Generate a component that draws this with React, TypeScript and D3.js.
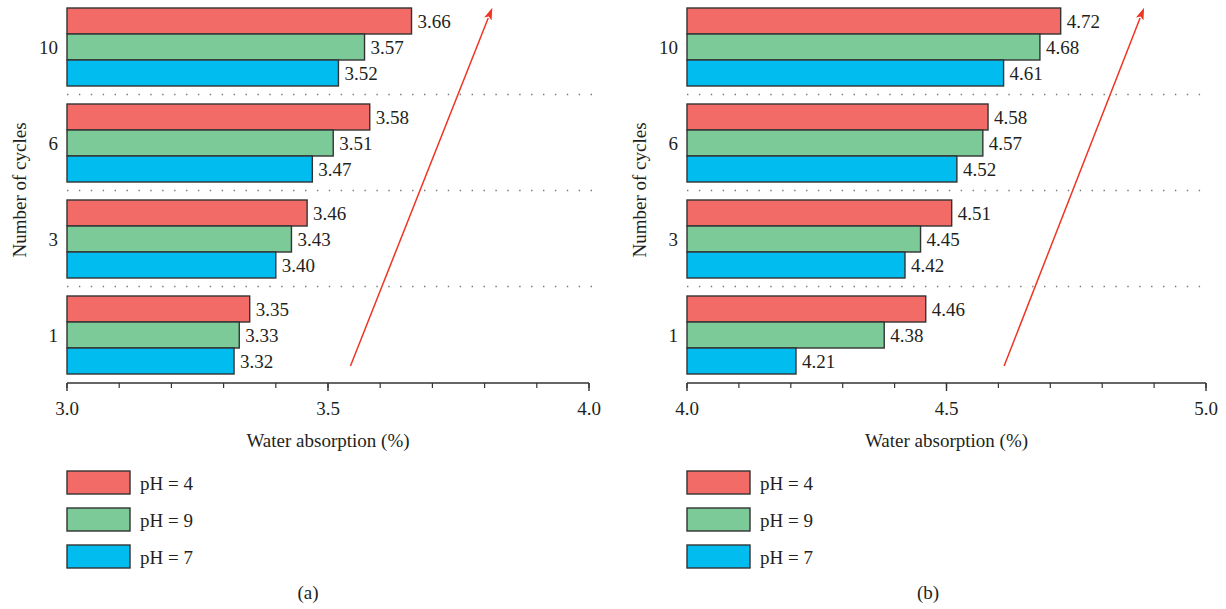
import React from "react";
import * as d3 from "d3";

// ---- data ----
const cycles = ["10", "6", "3", "1"]; // top to bottom
const seriesNames = ["pH = 4", "pH = 9", "pH = 7"];
const seriesColors = ["#F26B66", "#7BCA98", "#00BCEF"];

// panel (a), values listed in the order of `cycles`
const ph4A = [3.66, 3.58, 3.46, 3.35];
const ph9A = [3.57, 3.51, 3.43, 3.33];
const ph7A = [3.52, 3.47, 3.40, 3.32];
// panel (b)
const ph4B = [4.72, 4.58, 4.51, 4.46];
const ph9B = [4.68, 4.57, 4.45, 4.38];
const ph7B = [4.61, 4.52, 4.42, 4.21];

const domainA = [3.0, 4.0];
const domainB = [4.0, 5.0];
const majorTicksA = [3.0, 3.5, 4.0];
const majorTicksB = [4.0, 4.5, 5.0];
// trend arrows: [x start, x end] in data units
const arrowA = [3.543, 3.807];
const arrowB = [4.611, 4.873];

const FONT = "Liberation Serif";
const TEXT = "#231f20";

type PanelProps = {
  x0: number;
  x1: number;
  domain: number[];
  majors: number[];
  series: number[][];
  arrow: number[];
  tag: string;
};

function Panel({ x0, x1, domain, majors, series, arrow, tag }: PanelProps) {
  const x = d3.scaleLinear().domain(domain).range([x0, x1]);
  const y = d3
    .scaleBand<string>()
    .domain(cycles)
    .range([-1, 383])
    .paddingInner(0.1875)
    .paddingOuter(0.09375);
  const yi = d3
    .scaleBand<number>()
    .domain(d3.range(seriesNames.length))
    .range([0, y.bandwidth()]);
  const minors = x.ticks(10);
  const fmt = d3.format(".2f");
  const axisY = 383;
  const step = y.step();
  const gap = step - y.bandwidth();

  return (
    <g>
      {/* dotted separators */}
      {cycles.slice(0, -1).map((c) => {
        const yy = (y(c) as number) + y.bandwidth() + gap / 2 - 0.5;
        return (
          <line
            key={"sep" + c}
            x1={x0}
            x2={x1 + 4}
            y1={yy}
            y2={yy}
            stroke="#777"
            strokeWidth={1.4}
            strokeDasharray="1.4 10.5"
          />
        );
      })}
      {/* bars */}
      {cycles.map((c, ci) =>
        series.map((vals, si) => {
          const by = (y(c) as number) + (yi(si) as number);
          const v = vals[ci];
          return (
            <g key={c + "-" + si}>
              <rect
                x={x(domain[0])}
                y={by}
                width={x(v) - x(domain[0])}
                height={yi.bandwidth()}
                fill={seriesColors[si]}
                stroke="#333"
                strokeWidth={1.4}
              />
              <text
                x={x(v) + 6}
                y={by + yi.bandwidth() / 2}
                dy="0.35em"
                fontFamily={FONT}
                fontSize={19}
                fill={TEXT}
              >
                {fmt(v)}
              </text>
            </g>
          );
        })
      )}
      {/* category labels */}
      {cycles.map((c) => (
        <text
          key={"cat" + c}
          x={x0 - 9}
          y={(y(c) as number) + y.bandwidth() / 2}
          dy="0.35em"
          textAnchor="end"
          fontFamily={FONT}
          fontSize={19}
          fill={TEXT}
        >
          {c}
        </text>
      ))}
      <text
        transform={`translate(${x0 - 48},${190}) rotate(-90)`}
        textAnchor="middle"
        dy="0.35em"
        fontFamily={FONT}
        fontSize={19}
        fill={TEXT}
      >
        Number of cycles
      </text>
      {/* x axis */}
      <line x1={x0} x2={x1} y1={axisY} y2={axisY} stroke="#333" strokeWidth={1.4} />
      {minors.map((t) => (
        <line
          key={"mt" + t}
          x1={x(t)}
          x2={x(t)}
          y1={axisY}
          y2={axisY + 5}
          stroke="#333"
          strokeWidth={1.2}
        />
      ))}
      {majors.map((t) => (
        <g key={"Mt" + t}>
          <line x1={x(t)} x2={x(t)} y1={axisY} y2={axisY + 8} stroke="#333" strokeWidth={1.4} />
          <text
            x={x(t)}
            y={408}
            dy="0.35em"
            textAnchor="middle"
            fontFamily={FONT}
            fontSize={19}
            fill={TEXT}
          >
            {d3.format(".1f")(t)}
          </text>
        </g>
      ))}
      <text
        x={(x0 + x1) / 2}
        y={440}
        dy="0.35em"
        textAnchor="middle"
        fontFamily={FONT}
        fontSize={19}
        fill={TEXT}
      >
        Water absorption (%)
      </text>
      {/* trend arrow */}
      <line
        x1={x(arrow[0])}
        y1={366}
        x2={x(arrow[1])}
        y2={18}
        stroke="#EE3524"
        strokeWidth={1.5}
        markerEnd="url(#arrowHead)"
      />
      {/* legend */}
      {seriesNames.map((n, i) => (
        <g key={"lg" + n} transform={`translate(${x0},${471 + i * 37})`}>
          <rect x={0} y={0} width={63} height={23} fill={seriesColors[i]} stroke="#333" strokeWidth={1.4} />
          <text
            x={73}
            y={12}
            dy="0.35em"
            fontFamily={FONT}
            fontSize={19}
            fill={TEXT}
          >
            {n}
          </text>
        </g>
      ))}
      <text
        x={x0 + 241}
        y={592}
        dy="0.35em"
        textAnchor="middle"
        fontFamily={FONT}
        fontSize={19}
        fill={TEXT}
      >
        {tag}
      </text>
    </g>
  );
}

export default function App() {
  return (
    <svg
      width={1226}
      height={609}
      style={{ position: "absolute", left: 0, top: 0, background: "#fff" }}
    >
      <defs>
        <marker
          id="arrowHead"
          viewBox="0 0 12 10"
          refX={1}
          refY={5}
          markerWidth={12}
          markerHeight={10}
          orient="auto"
          markerUnits="userSpaceOnUse"
        >
          <path d="M0,1 L12,5 L0,9 L2.5,5 Z" fill="#EE3524" />
        </marker>
      </defs>
      <rect width={1226} height={609} fill="#fff" />
      <Panel
        x0={67}
        x1={589}
        domain={domainA}
        majors={majorTicksA}
        series={[ph4A, ph9A, ph7A]}
        arrow={arrowA}
        tag="(a)"
      />
      <Panel
        x0={687}
        x1={1206}
        domain={domainB}
        majors={majorTicksB}
        series={[ph4B, ph9B, ph7B]}
        arrow={arrowB}
        tag="(b)"
      />
    </svg>
  );
}
